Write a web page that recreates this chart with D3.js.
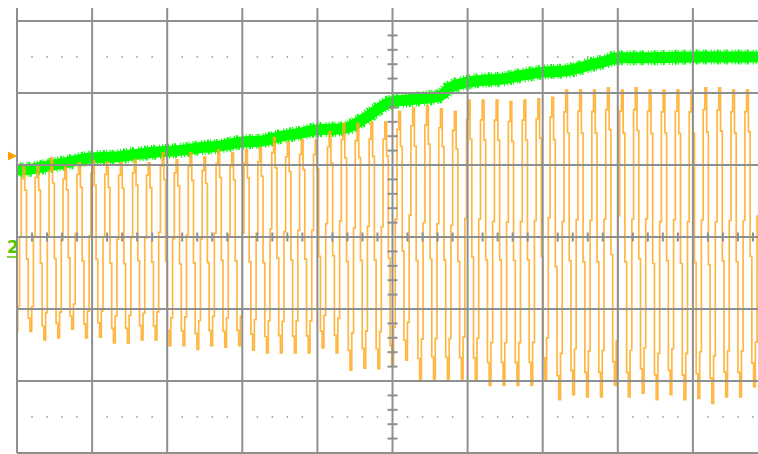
<!DOCTYPE html>
<html>
<head>
<meta charset="utf-8">
<script src="https://cdn.jsdelivr.net/npm/d3@7"></script>
<style>
html,body{margin:0;padding:0;background:#fff;}
svg{display:block;}
</style>
</head>
<body>
<script>
// ---- data (divisions: x = time div from screen centre, y = vertical div from centre) ----
const greenTime = [-5.0,-4.84,-4.57,-4.31,-4.0,-3.71,-3.47,-3.24,-3.0,-2.77,-2.57,-2.31,-2.0,-1.77,-1.47,-1.24,-1.0,-0.71,-0.57,-0.48,-0.31,-0.13,0,0.16,0.36,0.63,0.76,1.0,1.23,1.43,1.69,2.0,2.32,2.49,2.63,2.83,3.0,3.43,4.09,5.0];
const greenLevel = [0.93,0.94,0.99,1.04,1.10,1.11,1.14,1.17,1.19,1.21,1.24,1.26,1.32,1.33,1.40,1.44,1.49,1.50,1.53,1.58,1.69,1.82,1.88,1.90,1.92,1.96,2.07,2.15,2.18,2.19,2.24,2.29,2.31,2.35,2.39,2.44,2.49,2.49,2.50,2.50];

const orangeFirstPeak = -4.92;   // time (div) of first peak
const orangePeriod = 0.1853;     // div per cycle
const orangePeaks = [0.97,0.99,1.10,0.97,1.03,1.06,1.04,1.03,1.07,1.03, 1.17,1.07,1.17,1.11,1.21,1.17,1.21,1.24,1.38,1.32, 1.35,1.35,1.46,1.58,1.58,1.60,1.60,1.74,1.79,1.82, 1.78,1.74,1.90,1.90,1.90,1.88,1.90,1.92,1.94,2.04, 2.04,2.04,2.07,2.04,2.07,2.04,2.04,2.04,2.04,2.07, 2.07,2.04,2.04];
const orangeTroughs = [-1.31,-1.43,-1.40,-1.28,-1.40,-1.39,-1.47,-1.47,-1.43,-1.43, -1.51,-1.51,-1.56,-1.51,-1.53,-1.51,-1.57,-1.61,-1.61,-1.61, -1.61,-1.54,-1.61,-1.85,-1.82,-1.83,-1.78,-1.71,-1.99,-1.97, -1.97,-1.97,-1.99,-2.06,-2.06,-2.06,-2.06,-1.99,-2.26,-2.19, -2.22,-2.22,-2.06,-2.22,-2.17,-2.26,-2.19,-2.26,-2.24,-2.31, -2.22,-2.22,-2.08];
// sampled (held) shape of one cycle, peak -> trough -> back, normalised -1..1
const cycleShape = [1, 0.72, -0.12, -0.84, -1, -0.7, 0.15, 0.86];

const xDivs = [-5,-4,-3,-2,-1,0,1,2,3,4,5];
const yDivs = [-3,-2,-1,0,1,2,3];
const triggerLevel = 1.125;
const channelLabel = "2";

// ---- layout ----
const W = 758, H = 454;
const x = d3.scaleLinear().domain([-5, 5]).range([17, 768]);
const y = d3.scaleLinear().domain([-3, 3]).range([453, 21]);
const yTop = 3.18;

const svg = d3.select("body").append("svg").attr("width", W).attr("height", H);
svg.append("rect").attr("width", W).attr("height", H).attr("fill", "#fff");

svg.append("defs").append("clipPath").attr("id", "clip")
  .append("rect").attr("x", x(-5)).attr("y", y(yTop)).attr("width", x(5) - x(-5)).attr("height", y(-3) - y(yTop));

const traces = svg.append("g").attr("clip-path", "url(#clip)");

// green trace (thick noisy band)
const greenPts = greenTime.map((t, i) => [t, greenLevel[i]]);
const greenLine = d3.line().x(d => x(d[0])).y(d => y(d[1])).curve(d3.curveMonotoneX);
traces.append("path")
  .datum(greenPts)
  .attr("fill", "none")
  .attr("stroke", "#00ff00")
  .attr("stroke-width", 15)
  .attr("stroke-dasharray", "1,2,2,1,1,3,1,1,2,4,1,2")
  .attr("d", greenLine);
traces.append("path")
  .datum(greenPts)
  .attr("fill", "none")
  .attr("stroke", "#00ff00")
  .attr("stroke-width", 11)
  .attr("d", greenLine);

// orange trace
const pts = [];
const n = orangePeaks.length;
for (let k = -1; k < n; k++) {
  const pk = orangePeaks[Math.max(k, 0)];
  const tr = orangeTroughs[Math.max(k, 0)];
  const pkNext = orangePeaks[Math.min(k + 1, n - 1)];
  for (let j = 0; j < cycleShape.length; j++) {
    const t = orangeFirstPeak + (k + j / cycleShape.length) * orangePeriod;
    const hi = j <= 4 ? pk : pkNext;
    const v = tr + (cycleShape[j] + 1) / 2 * (hi - tr);
    pts.push([t, v]);
  }
}
const orangeLine = d3.line().x(d => x(d[0])).y(d => y(d[1])).curve(d3.curveStepAfter);
traces.append("path")
  .datum(pts)
  .attr("fill", "none")
  .attr("stroke", "#ffaa22")
  .attr("stroke-opacity", 0.85)
  .attr("stroke-width", 1.7)
  .attr("d", orangeLine);

// ---- graticule ----
const grid = svg.append("g").attr("stroke", "#8f8f8f").attr("stroke-width", 2);
grid.selectAll(".v").data(xDivs).join("line")
  .attr("x1", d => x(d)).attr("x2", d => x(d))
  .attr("y1", y(yTop)).attr("y2", y(-3));
grid.selectAll(".h").data(yDivs).join("line")
  .attr("x1", x(-5)).attr("x2", W)
  .attr("y1", d => y(d)).attr("y2", d => y(d));

// minor ticks on centre axes
const xMinor = d3.range(-25, 26).map(i => i / 5).filter(v => Math.abs(v - Math.round(v)) > 1e-6);
const yMinor = d3.range(-15, 16).map(i => i / 5).filter(v => Math.abs(v - Math.round(v)) > 1e-6 && v <= yTop);
grid.selectAll(".xt").data(xMinor).join("line")
  .attr("x1", d => x(d)).attr("x2", d => x(d))
  .attr("y1", y(0) - 4.5).attr("y2", y(0) + 4.5);
grid.selectAll(".yt").data(yMinor).join("line")
  .attr("x1", x(0) - 5).attr("x2", x(0) + 5)
  .attr("y1", d => y(d)).attr("y2", d => y(d));

// dotted rows at +/-2.5 div
const dots = svg.append("g").attr("fill", "#8f8f8f");
[2.5, -2.5].forEach(lv => {
  dots.selectAll(null).data(xMinor).join("rect")
    .attr("x", d => x(d) - 0.75).attr("y", y(lv) - 0.75)
    .attr("width", 1.5).attr("height", 1.5);
});

// trigger marker
const ty = y(triggerLevel);
svg.append("path")
  .attr("d", `M8,${ty - 4.5}L17,${ty}L8,${ty + 4.5}Z`)
  .attr("fill", "#ffa000");

// channel label
svg.append("text")
  .attr("x", 7).attr("y", y(0) + 16)
  .attr("font-family", "DejaVu Sans, sans-serif")
  .attr("font-weight", "bold")
  .attr("font-size", 17)
  .attr("fill", "#55c400")
  .text(channelLabel);
svg.append("line")
  .attr("x1", 7).attr("x2", 17)
  .attr("y1", y(0) + 20).attr("y2", y(0) + 20)
  .attr("stroke", "#55c400").attr("stroke-width", 1.5);
</script>
</body>
</html>
